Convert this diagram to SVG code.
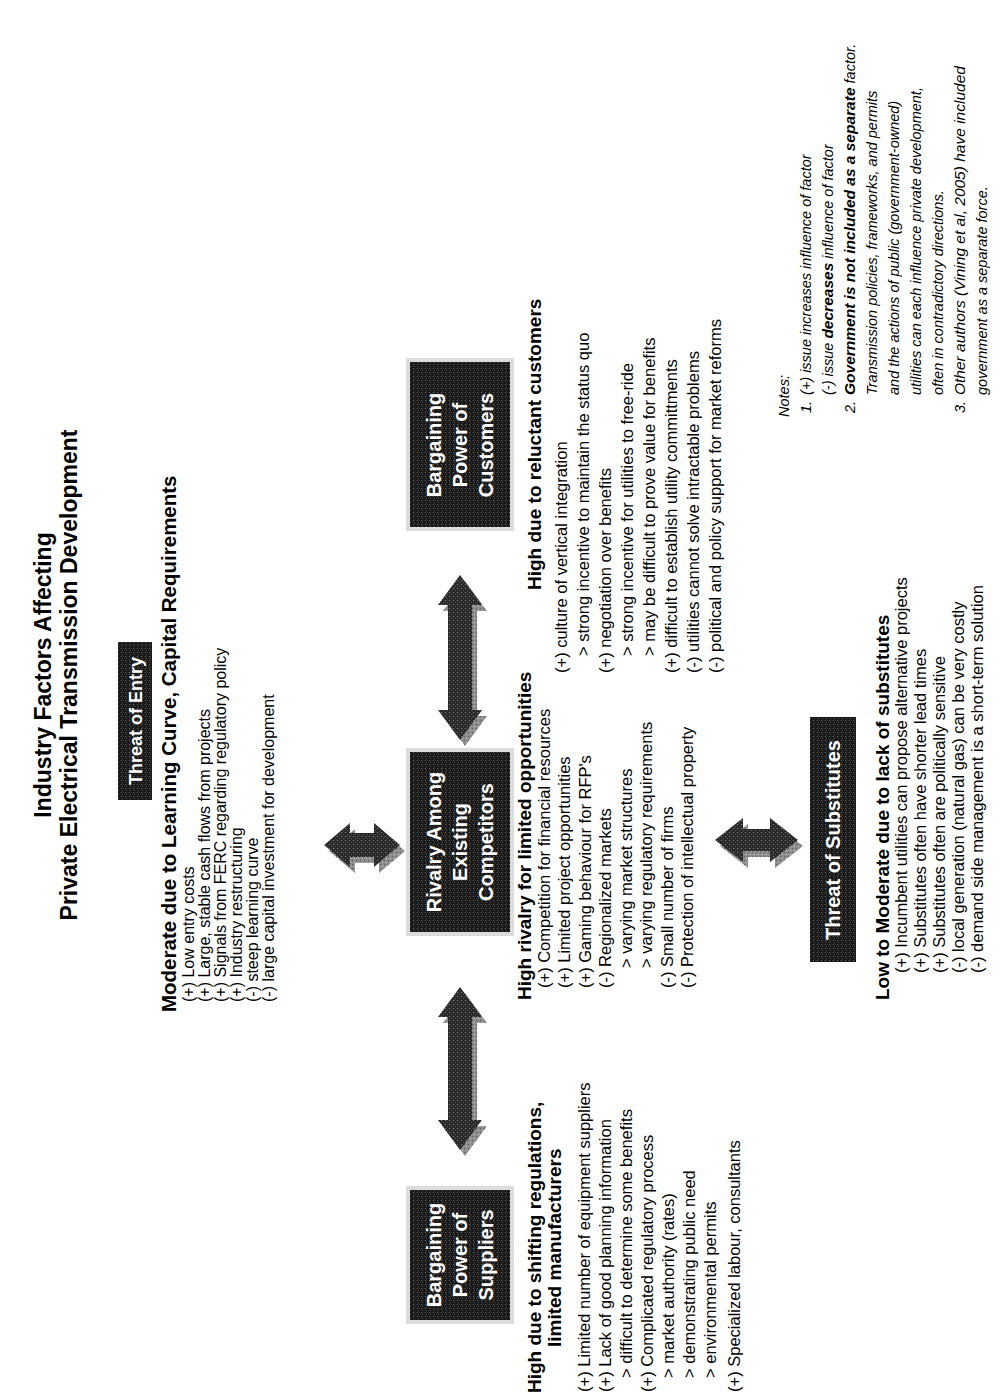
<svg xmlns="http://www.w3.org/2000/svg" width="1005" height="1398" viewBox="0 0 1005 1398">
<defs>
<pattern id="tex" width="4" height="4" patternUnits="userSpaceOnUse"><rect width="4" height="4" fill="#1a1a1a"/><rect x="1" y="1" width="1" height="1" fill="#6e6e6e"/><rect x="3" y="2" width="1" height="1" fill="#4a4a4a"/></pattern>
<pattern id="atex" width="4" height="4" patternUnits="userSpaceOnUse"><rect width="4" height="4" fill="#2a2a2a"/><rect x="1" y="1" width="1" height="1" fill="#8a8a8a"/><rect x="3" y="3" width="1" height="1" fill="#5a5a5a"/></pattern>
<pattern id="stex" width="4" height="4" patternUnits="userSpaceOnUse"><rect width="4" height="4" fill="#8c8c8c"/><rect x="1" y="1" width="1" height="1" fill="#c8c8c8"/><rect x="3" y="3" width="1" height="1" fill="#5e5e5e"/></pattern>
<style>
text{font-family:"Liberation Sans",Arial,Helvetica,sans-serif;fill:#000}
.title{font-size:23px;font-weight:bold;text-anchor:middle}
.box{fill:url(#tex)}
.frame{fill:#dcdcdc}
.bt{font-size:20px;font-weight:bold;fill:#fff;text-anchor:middle}
.hd{font-size:19px;font-weight:bold}
.it{font-size:16.5px}
.ie{font-size:16px}
.nt{font-size:14.5px;font-style:italic}
.b{font-weight:bold;font-size:15.5px}
.arr{fill:url(#atex)}
.sh{fill:url(#stex)}
</style>
</defs>
<rect width="1005" height="1398" fill="#fff"/>
<g transform="translate(0,1398) rotate(-90)">

<g id="title">
<text class="title" x="723" y="51">Industry Factors Affecting</text>
<text class="title" x="723" y="77">Private Electrical Transmission Development</text>
</g>

<g id="node-entry">
<rect class="box" x="598" y="118" width="158" height="34"/>
<text class="bt" x="677" y="142" style="font-size:18px">Threat of Entry</text>
<text class="hd" x="386" y="176" style="font-size:20.5px">Moderate due to Learning Curve, Capital Requirements</text>
<text class="ie" x="396" y="194">(+) Low entry costs</text>
<text class="ie" x="396" y="210">(+) Large, stable cash flows from projects</text>
<text class="ie" x="396" y="226">(+) Signals from FERC regarding regulatory policy</text>
<text class="ie" x="396" y="242">(+) Industry restructuring</text>
<text class="ie" x="396" y="258">(-) steep learning curve</text>
<text class="ie" x="396" y="274">(-) large capital investment for development</text>
</g>

<g id="node-rivalry">
<rect class="frame" x="462" y="406" width="188" height="108"/>
<rect class="box" x="466" y="410" width="180" height="100"/>
<text class="bt" x="556" y="441">Rivalry Among</text>
<text class="bt" x="556" y="467">Existing</text>
<text class="bt" x="556" y="493">Competitors</text>
<text class="hd" x="398" y="531">High rivalry for limited opportunities</text>
<text class="it" x="410" y="550">(+) Competition for financial resources</text>
<text class="it" x="410" y="570">(+) Limited project opportunities</text>
<text class="it" x="410" y="591">(+) Gaming behaviour for RFP's</text>
<text class="it" x="410" y="611">(-) Regionalized markets</text>
<text class="it" x="430" y="632">&gt; varying market structures</text>
<text class="it" x="430" y="652">&gt; varying regulatory requirements</text>
<text class="it" x="410" y="673">(-) Small number of firms</text>
<text class="it" x="410" y="693">(-) Protection of intellectual property</text>
</g>

<g id="node-suppliers">
<rect class="frame" x="74" y="406" width="138" height="108"/>
<rect class="box" x="78" y="410" width="130" height="100"/>
<text class="bt" x="143" y="441">Bargaining</text>
<text class="bt" x="143" y="467">Power of</text>
<text class="bt" x="143" y="493">Suppliers</text>
<text class="hd" x="5" y="541">High due to shifting regulations,</text>
<text class="hd" x="51" y="561">limited manufacturers</text>
<text class="it" x="6" y="590">(+) Limited number of equipment suppliers</text>
<text class="it" x="6" y="611">(+) Lack of good planning information</text>
<text class="it" x="20" y="632">&gt; difficult to determine some benefits</text>
<text class="it" x="6" y="653">(+) Complicated regulatory process</text>
<text class="it" x="20" y="674">&gt; market authority (rates)</text>
<text class="it" x="20" y="695">&gt; demonstrating public need</text>
<text class="it" x="20" y="716">&gt; environmental permits</text>
<text class="it" x="6" y="740">(+) Specialized labour, consultants</text>
</g>

<g id="node-customers">
<rect class="frame" x="867" y="406" width="173" height="108"/>
<rect class="box" x="871" y="410" width="165" height="100"/>
<text class="bt" x="953" y="441">Bargaining</text>
<text class="bt" x="953" y="467">Power of</text>
<text class="bt" x="953" y="493">Customers</text>
<text class="hd" x="808" y="541">High due to reluctant customers</text>
<text class="it" x="725" y="567">(+) culture of vertical integration</text>
<text class="it" x="742" y="589">&gt; strong incentive to maintain the status quo</text>
<text class="it" x="725" y="611">(+) negotiation over benefits</text>
<text class="it" x="742" y="633">&gt; strong incentive for utilities to free-ride</text>
<text class="it" x="742" y="655">&gt; may be difficult to prove value for benefits</text>
<text class="it" x="725" y="677">(+) difficult to establish utility committments</text>
<text class="it" x="725" y="699">(-) utilities cannot solve intractable problems</text>
<text class="it" x="725" y="721">(-) political and policy support for market reforms</text>
</g>

<g id="node-substitutes">
<rect class="box" x="436" y="810" width="245" height="46"/>
<text class="bt" x="558" y="840">Threat of Substitutes</text>
<text class="hd" x="398" y="889">Low to Moderate due to lack of substitutes</text>
<text class="it" x="425" y="907">(+) Incumbent utilities can propose alternative projects</text>
<text class="it" x="425" y="926">(+) Substitutes often have shorter lead times</text>
<text class="it" x="425" y="945">(+) Substitutes often are politically sensitive</text>
<text class="it" x="425" y="964">(-) local generation (natural gas) can be very costly</text>
<text class="it" x="425" y="983">(-) demand side management is a short-term solution</text>
</g>

<g id="notes">
<text class="nt" x="981" y="789">Notes:</text>
<text class="nt" x="985" y="811">1.</text>
<text class="nt" x="1003" y="811">(+) issue increases influence of factor</text>
<text class="nt" x="1003" y="833">(-) issue <tspan class="b">decreases</tspan> influence of factor</text>
<text class="nt" x="985" y="855">2.</text>
<text class="nt" x="1003" y="855"><tspan class="b">Government is not included as a separate</tspan> factor.</text>
<text class="nt" x="1003" y="877">Transmission policies, frameworks, and permits</text>
<text class="nt" x="1003" y="899">and the actions of public (government-owned)</text>
<text class="nt" x="1003" y="921">utilities can each influence private development,</text>
<text class="nt" x="1003" y="943">often in contradictory directions.</text>
<text class="nt" x="985" y="965">3.</text>
<text class="nt" x="1003" y="965" style="font-size:15.5px">Other authors (Vining et al, 2005) have included</text>
<text class="nt" x="1003" y="987">government as a separate force.</text>
</g>

<g id="connectors">
<g transform="translate(-6,5)">
<polygon class="sh" points="553,324 575,350 565,350 565,374 575,374 553,400 531,374 541,374 541,350 531,350"/>
<polygon class="sh" points="558,715 580,743 569,743 569,770 580,770 558,798 536,770 547,770 547,743 536,743"/>
<polygon class="sh" points="248,460 278,438 278,448 381,448 381,438 411,460 381,482 381,472 278,472 278,482"/>
<polygon class="sh" points="658,460 688,438 688,448 793,448 793,438 823,460 793,482 793,472 688,472 688,482"/>
</g>
<polygon class="arr" points="553,324 575,350 565,350 565,374 575,374 553,400 531,374 541,374 541,350 531,350"/>
<polygon class="arr" points="558,715 580,743 569,743 569,770 580,770 558,798 536,770 547,770 547,743 536,743"/>
<polygon class="arr" points="248,460 278,438 278,448 381,448 381,438 411,460 381,482 381,472 278,472 278,482"/>
<polygon class="arr" points="658,460 688,438 688,448 793,448 793,438 823,460 793,482 793,472 688,472 688,482"/>
</g>

</g>
</svg>
